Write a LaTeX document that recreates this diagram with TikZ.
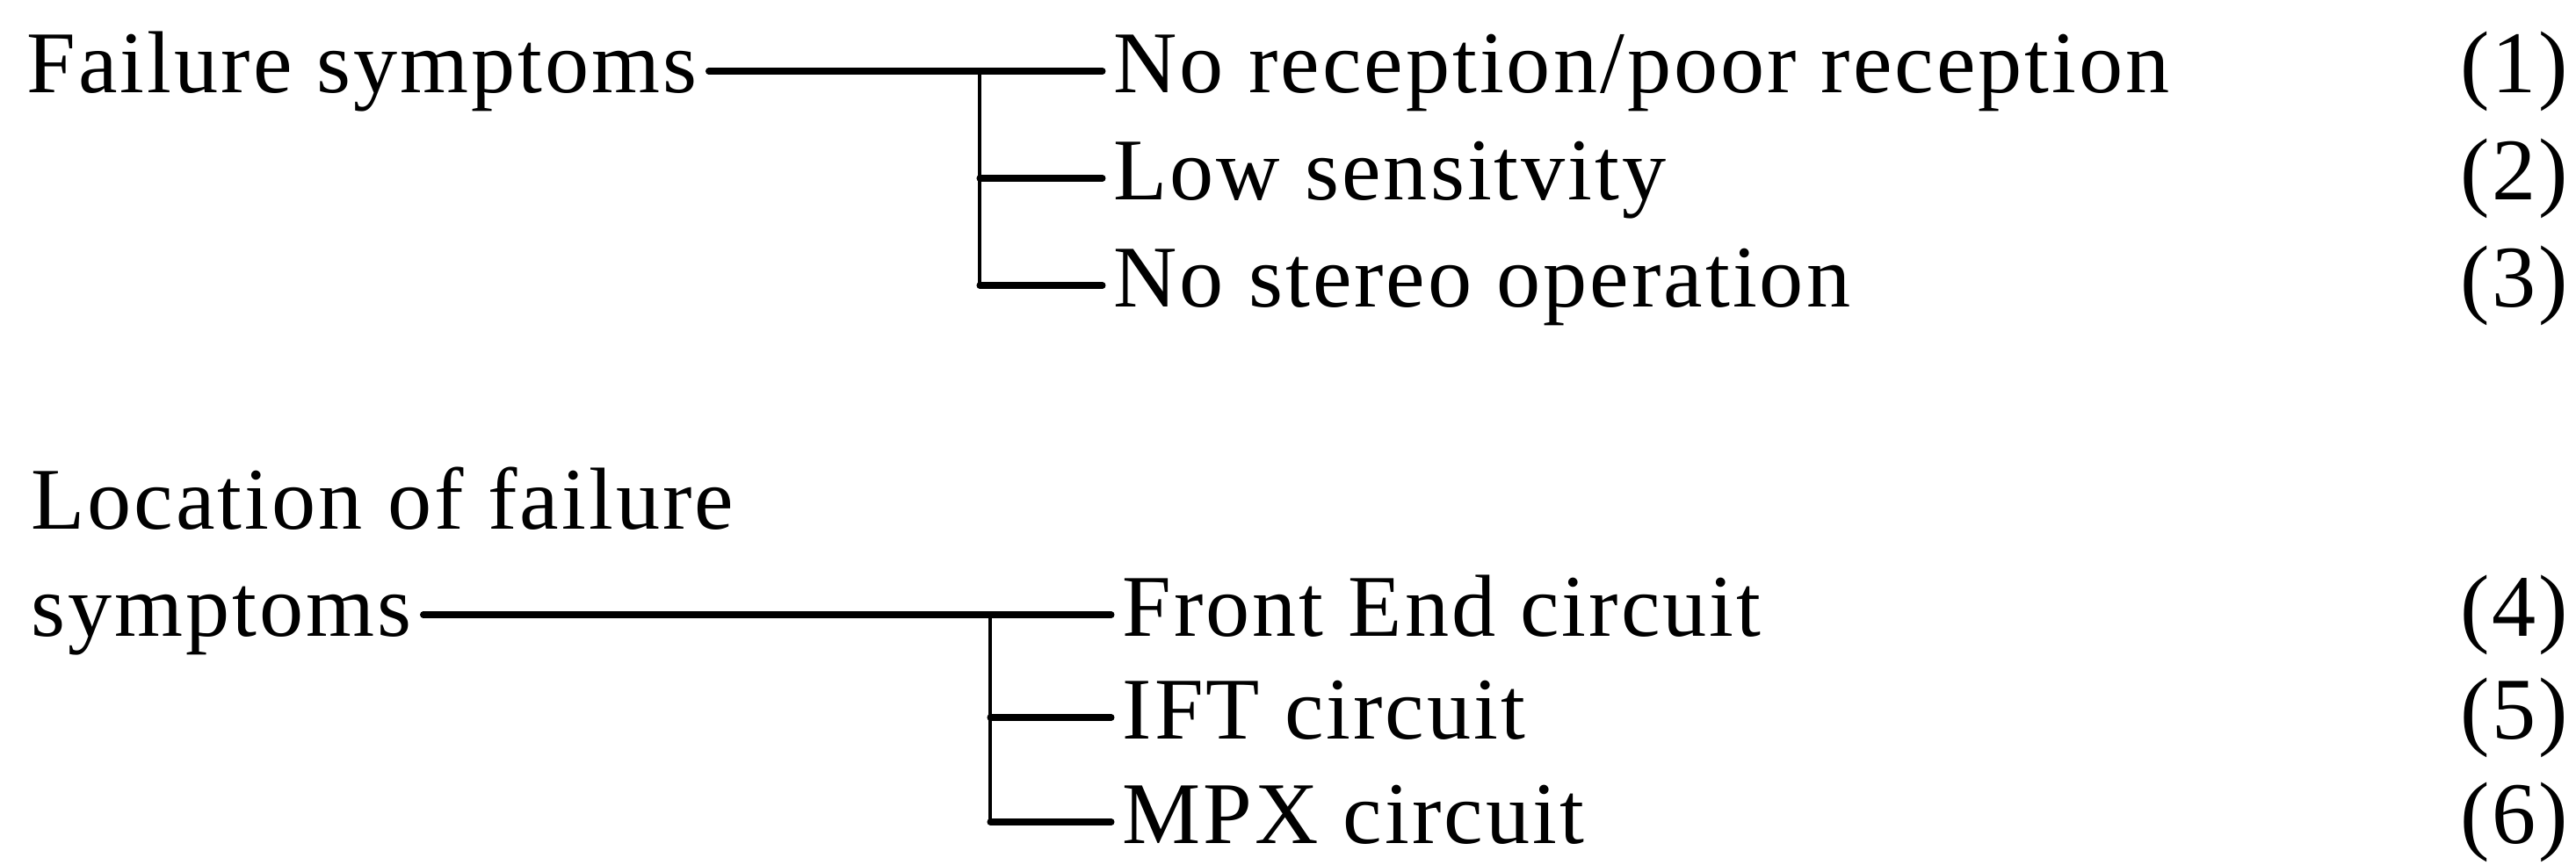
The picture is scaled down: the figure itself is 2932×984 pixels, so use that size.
\documentclass[tikz,border=0pt]{standalone}
\usepackage{fontspec}
\setmainfont{Liberation Serif}[LetterSpace=3]
\begin{document}
\begin{tikzpicture}[x=0.01cm,y=-0.01cm,
  lbl/.style={anchor=base west,inner sep=0pt,inner xsep=0.12cm,font=\fontsize{28.5pt}{34pt}\selectfont},
  num/.style={anchor=base east,inner sep=0pt,font=\fontsize{28.5pt}{34pt}\selectfont},
  hline/.style={line width=2pt,line cap=round},
  vline/.style={line width=1.4pt}]
\useasboundingbox (0,0) rectangle (2932,984);
% top group
\node[lbl] (fs) at (18,105) {Failure symptoms};
\node[lbl] (a1) at (1255,105) {No reception/poor reception};
\node[lbl] (a2) at (1255,227) {Low sensitvity};
\node[lbl] (a3) at (1255,349) {No stereo operation};
\node[num] (n1) at (2924,105) {(1)};
\node[num] (n2) at (2924,227) {(2)};
\node[num] (n3) at (2924,349) {(3)};
\coordinate (r1) at (1115,81);
\coordinate (r2) at (1115,203);
\coordinate (r3) at (1115,325);
\draw[hline] (fs.east |- r1) -- (a1.west |- r1);
\draw[hline] (r2) -- (a2.west |- r2);
\draw[hline] (r3) -- (a3.west |- r3);
\draw[vline] (r1) -- (r3);
% bottom group
\node[lbl] (lf) at (23,602) {Location of failure};
\node[lbl] (ls) at (23,724) {symptoms};
\node[lbl] (b1) at (1265,724) {Front End circuit};
\node[lbl] (b2) at (1265,841) {IFT circuit};
\node[lbl] (b3) at (1265,960) {MPX circuit};
\node[num] (n4) at (2924,724) {(4)};
\node[num] (n5) at (2924,841) {(5)};
\node[num] (n6) at (2924,960) {(6)};
\coordinate (s1) at (1127,700);
\coordinate (s2) at (1127,817);
\coordinate (s3) at (1127,936);
\draw[hline] (ls.east |- s1) -- (b1.west |- s1);
\draw[hline] (s2) -- (b2.west |- s2);
\draw[hline] (s3) -- (b3.west |- s3);
\draw[vline] (s1) -- (s3);
\end{tikzpicture}
\end{document}
